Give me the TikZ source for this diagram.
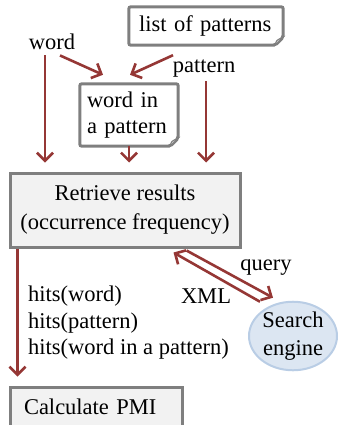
\documentclass[tikz,border=0pt]{standalone}
\usepackage{fontspec}
\setmainfont{Liberation Serif}
\usetikzlibrary{arrows.meta,positioning,shapes.geometric}

\definecolor{arrowred}{HTML}{953735}
\definecolor{boxgray}{HTML}{7F7F7F}
\definecolor{boxfill}{HTML}{F2F2F2}
\definecolor{enginefill}{HTML}{DCE6F2}
\definecolor{engineline}{HTML}{B9CDE5}

\tikzset{
  flow/.style={draw=arrowred, line width=2.6pt, -{Straight Barb[length=8pt,width=16pt]}},
  stepbox/.style={draw=boxgray, fill=boxfill, line width=3pt},
  notetext/.style={align=left, inner ysep=0pt},
  engine/.style={ellipse, draw=engineline, fill=enginefill, line width=2pt, inner sep=0pt, align=center}
}

% outline of a sheet with its lower right corner turned up
\newcommand{\foldedge}[1]{%
  \draw[boxgray, line width=3pt, rounded corners=2pt]
    (#1.north west) -- (#1.north east) -- ([yshift=8pt]#1.south east)
    -- ([xshift=-8pt]#1.south east) -- (#1.south west) -- cycle;
  \filldraw[fill=boxgray!35, draw=boxgray, line width=1pt]
    ([xshift=-8pt]#1.south east) .. controls ([xshift=-7pt,yshift=5pt]#1.south east) .. ([yshift=8pt]#1.south east) -- cycle;
}

\begin{document}
\begin{tikzpicture}[x=1pt, y=-1pt, font=\fontsize{22.5}{26.5}\selectfont]
  \useasboundingbox (0,0) rectangle (338,425);

  % inputs
  \node[notetext, text width=134pt, minimum height=38pt, inner xsep=10pt] (list) at (206,26) {list of patterns};
  \foldedge{list}
  \node (word) at (52,42) {word};
  \node (pattern) at (204,69) {pattern};
  \node[notetext, text width=84pt, minimum height=62pt, inner xsep=7pt] (wip) at (129,115) {word in\\a pattern};
  \foldedge{wip}

  % steps
  \node[stepbox, align=center, minimum width=230pt, minimum height=74pt,
        font=\fontsize{22.5}{29}\selectfont] (retrieve) at (125,210) {Retrieve results\\(occurrence frequency)};
  \node[stepbox, align=left, text width=144pt, inner xsep=14pt, minimum height=40pt] (calc) at (96,407) {Calculate PMI};
  \node[engine, minimum width=88pt, minimum height=68pt, font=\fontsize{22.5}{28}\selectfont] (search) at (293,336) {Search\\engine};

  % labels
  \node[align=left, anchor=west, inner sep=0pt] (hits) at (28,323) {hits(word)\\hits(pattern)\\hits(word in a pattern)};
  \node (query) at (266,268) {query};
  \node (xml) at (206,296) {XML};

  % connectors
  \draw[flow, shorten <=2pt, shorten >=9pt] ([xshift=-7pt]word.south) -- ([xshift=-7pt]word.south |- retrieve.north);
  \draw[flow] ([xshift=8pt,yshift=-2pt]word.south) -- ([xshift=-26pt,yshift=9pt]wip.north);
  \draw[flow] ([xshift=-33pt,yshift=-10pt]list.south) -- ([xshift=1pt,yshift=9pt]wip.north);
  \draw[flow, shorten >=9pt] ([xshift=2pt]pattern.south) -- ([xshift=2pt]pattern.south |- retrieve.north);
  \draw[flow, shorten >=9pt] (wip.south) -- (wip.south |- retrieve.north);
  \draw[flow, shorten >=9pt] ([xshift=9pt]retrieve.south west) -- ([xshift=9pt]retrieve.south west |- calc.north);
  \draw[flow] ([xshift=-33pt,yshift=-1pt]search.north) -- ([xshift=-68pt,yshift=-4pt]retrieve.south east);
  \draw[flow] ([xshift=-55pt,yshift=-2pt]retrieve.south east) -- ([xshift=-20pt,yshift=3pt]search.north);
\end{tikzpicture}
\end{document}
